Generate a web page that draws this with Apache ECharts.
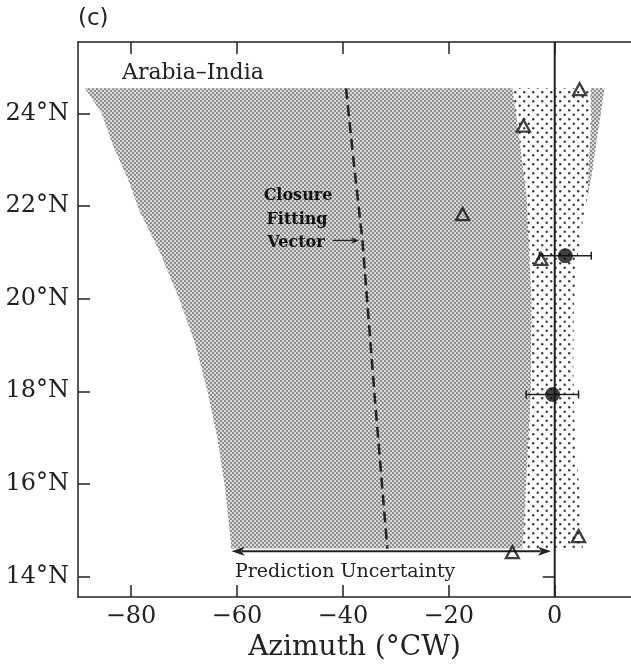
<!DOCTYPE html>
<html><head><meta charset="utf-8">
<script src="https://cdn.jsdelivr.net/npm/echarts@6/dist/echarts.min.js"></script>
<style>html,body{margin:0;padding:0;background:#fff}#c{width:631px;height:667px}</style>
</head><body><div id="c"></div>
<script>
// ---- data ----
const xTicks = [-80, -60, -40, -20, 0];
const yTicks = [14, 16, 18, 20, 22, 24];
const xRange = [-90, 14.4];
const yRange = [13.55, 25.55];
// dense-stippled region (left boundary top->bottom, right boundary top->bottom)
const darkLeft = [[-88.7,24.55],[-85.6,24.03],[-83.4,23.32],[-80.6,22.6],[-78.4,21.9],[-74.5,21.0],[-70.8,19.97],[-67.8,19.0],[-65.5,17.98],[-63.7,17.0],[-62.3,15.97],[-61.0,14.6]];
const darkRight = [[-8.0,24.55],[-7.0,23.74],[-5.3,22.2],[-4.4,20.0],[-4.5,18.0],[-5.4,16.0],[-6.1,14.6]];
// sparse-dotted region right boundary (top->bottom)
const lightRight = [[9.4,24.55],[8.4,23.8],[7.0,22.7],[5.2,21.6],[4.2,20.8],[3.6,19.8],[3.5,18.5],[3.7,17.5],[4.2,16.5],[4.9,15.5],[5.3,14.6]];
// dense band along the upper right edge
const edgeBand = [[6.8,24.55],[9.4,24.55],[8.4,23.8],[7.0,22.7],[6.2,22.2],[6.4,22.9],[6.9,23.8]];
const closureVector = [[-39.4,24.55],[-37.9,22.9],[-36.3,21.26],[-34.0,17.9],[-31.6,14.6]];
const triangles = [[4.7,24.53],[-5.9,23.74],[-17.4,21.83],[-2.6,20.86],[4.5,14.87],[-8.0,14.52]];
const circles = [[2.0,20.93],[-0.4,17.93]];
const circleErr = [[-2.9,6.9],[-5.4,4.5]];
const uncertaintyArrow = [[-61.0,14.54],[-0.7,14.54]];
const vectorArrow = [[-41.9,21.26],[-36.9,21.26]];
const zeroLine = [[0,13.55],[0,25.55]];

// ---- patterns ----
function tile(w,h,bg,draw){const c=document.createElement('canvas');c.width=w;c.height=h;const g=c.getContext('2d');g.fillStyle=bg;g.fillRect(0,0,w,h);draw(g);return c;}
const densePat = {image: tile(4,4,'#dadada',g=>{g.fillStyle='#8e8e8e';g.fillRect(0,0,2,2);g.fillRect(2,2,2,2);}), repeat:'repeat'};
const sparsePat = {image: tile(9,9,'#ffffff',g=>{g.fillStyle='#3a3a3a';g.beginPath();g.arc(2.2,2.2,1.2,0,Math.PI*2);g.fill();g.beginPath();g.arc(6.7,6.7,1.2,0,Math.PI*2);g.fill();}), repeat:'repeat'};

const INK = '#222';
const SERIF = 'DejaVu Serif';

function polySeries(pts, fill, z){
  return {type:'custom', coordinateSystem:'cartesian2d', silent:true, z:z, data:[pts[0]],
    renderItem:(p,api)=>({type:'polygon', shape:{points: pts.map(q=>api.coord(q))}, style:{fill:fill, stroke:null}})};
}
function arrowSeries(pts, both, lw, hl, hw, z){
  return {type:'custom', coordinateSystem:'cartesian2d', silent:true, z:z, data:[pts[0]],
    renderItem:(p,api)=>{
      const a=api.coord(pts[0]), b=api.coord(pts[1]);
      const kids=[{type:'line', shape:{x1: both? a[0]+hl*0.8 : a[0], y1:a[1], x2:b[0]-hl*0.8, y2:b[1]}, style:{stroke:INK, lineWidth:lw}}];
      kids.push({type:'polygon', shape:{points:[[b[0],b[1]],[b[0]-hl,b[1]-hw],[b[0]-hl*0.75,b[1]],[b[0]-hl,b[1]+hw]]}, style:{fill:INK}});
      if(both) kids.push({type:'polygon', shape:{points:[[a[0],a[1]],[a[0]+hl,a[1]-hw],[a[0]+hl*0.75,a[1]],[a[0]+hl,a[1]+hw]]}, style:{fill:INK}});
      return {type:'group', children:kids};
    }};
}

const axisLineStyle = {color:INK, width:1.5};
const tickStyle = {color:INK, width:1.5};

const option = {
  animation:false,
  backgroundColor:'#fff',
  grid:{left:78, right:0, top:42, bottom:64, containLabel:false},
  xAxis:[
    {type:'value', position:'bottom', min:xRange[0], max:xRange[1],
     axisLine:{show:true, onZero:false, lineStyle:axisLineStyle},
     axisTick:{show:true, inside:true, length:12, customValues:xTicks, lineStyle:tickStyle},
     axisLabel:{customValues:xTicks, formatter:v=>String(v).replace('-','\u2212'), fontFamily:SERIF, fontSize:24, color:INK, margin:8},
     splitLine:{show:false},
     name:'Azimuth (\u00b0CW)', nameLocation:'middle', nameGap:35,
     nameTextStyle:{fontFamily:SERIF, fontSize:28, color:INK}},
    {type:'value', position:'top', min:xRange[0], max:xRange[1],
     axisLine:{show:true, onZero:false, lineStyle:axisLineStyle},
     axisTick:{show:true, inside:true, length:12, customValues:xTicks, lineStyle:tickStyle},
     axisLabel:{show:false}, splitLine:{show:false}}
  ],
  yAxis:[
    {type:'value', position:'left', min:yRange[0], max:yRange[1],
     axisLine:{show:true, onZero:false, lineStyle:axisLineStyle},
     axisTick:{show:true, inside:true, length:12, customValues:yTicks, lineStyle:tickStyle},
     axisLabel:{customValues:yTicks, formatter:v=>v+'\u00b0N', fontFamily:SERIF, fontSize:24, color:INK, margin:9},
     splitLine:{show:false}},
    {type:'value', position:'right', min:yRange[0], max:yRange[1],
     axisLine:{show:false},
     axisTick:{show:true, inside:true, length:12, customValues:yTicks, lineStyle:tickStyle},
     axisLabel:{show:false}, splitLine:{show:false}}
  ],
  series:[
    polySeries(darkLeft.concat(lightRight.slice().reverse()), sparsePat, 1),
    polySeries(darkLeft.concat(darkRight.slice().reverse()), densePat, 2),
    polySeries(edgeBand, densePat, 2),
    {type:'line', data:closureVector, symbol:'none', silent:true, z:3,
     lineStyle:{color:INK, width:2.5, type:[11,6]}},
    {type:'line', data:zeroLine, symbol:'none', silent:true, z:3,
     lineStyle:{color:INK, width:2}},
    arrowSeries(uncertaintyArrow, true, 2, 13, 4.5, 4),
    arrowSeries(vectorArrow, false, 1.3, 8, 3, 4),
    {type:'custom', coordinateSystem:'cartesian2d', silent:true, z:4, data:circles,
     renderItem:(p,api)=>{
       const i=p.dataIndex, y=circles[i][1];
       const l=api.coord([circleErr[i][0],y]), r=api.coord([circleErr[i][1],y]);
       const st={stroke:INK, lineWidth:1.5};
       return {type:'group', children:[
         {type:'line', shape:{x1:l[0],y1:l[1],x2:r[0],y2:r[1]}, style:st},
         {type:'line', shape:{x1:l[0],y1:l[1]-4,x2:l[0],y2:l[1]+4}, style:st},
         {type:'line', shape:{x1:r[0],y1:r[1]-4,x2:r[0],y2:r[1]+4}, style:st}]};
     }},
    {type:'scatter', data:circles, symbol:'circle', symbolSize:15, silent:true, z:5,
     itemStyle:{color:'#111'}},
    {type:'scatter', data:triangles, symbol:'triangle', symbolSize:[13,12], silent:true, z:5,
     itemStyle:{color:'rgba(255,255,255,0)', borderColor:'#111', borderWidth:2.3}}
  ],
  graphic:[
    {type:'text', left:78, top:8, style:{text:'(c)', font:'23px "DejaVu Sans"', fill:INK}},
    {type:'text', left:122, top:62, style:{text:'Arabia\u2013India', font:'22px "DejaVu Serif"', fill:INK}},
    {type:'text', x:298, y:196, style:{text:'Closure', font:'bold 16px "DejaVu Serif"', fill:'#111', align:'center', verticalAlign:'middle'}, z:10},
    {type:'text', x:297, y:220, style:{text:'Fitting', font:'bold 16px "DejaVu Serif"', fill:'#111', align:'center', verticalAlign:'middle'}, z:10},
    {type:'text', x:296, y:243, style:{text:'Vector', font:'bold 16px "DejaVu Serif"', fill:'#111', align:'center', verticalAlign:'middle'}, z:10},
    {type:'text', left:235, top:563, style:{text:'Prediction Uncertainty', font:'19px "DejaVu Serif"', fill:INK}}
  ]
};
const chart = echarts.init(document.getElementById('c'), null, {renderer:'canvas'});
chart.setOption(option);
</script></body></html>
